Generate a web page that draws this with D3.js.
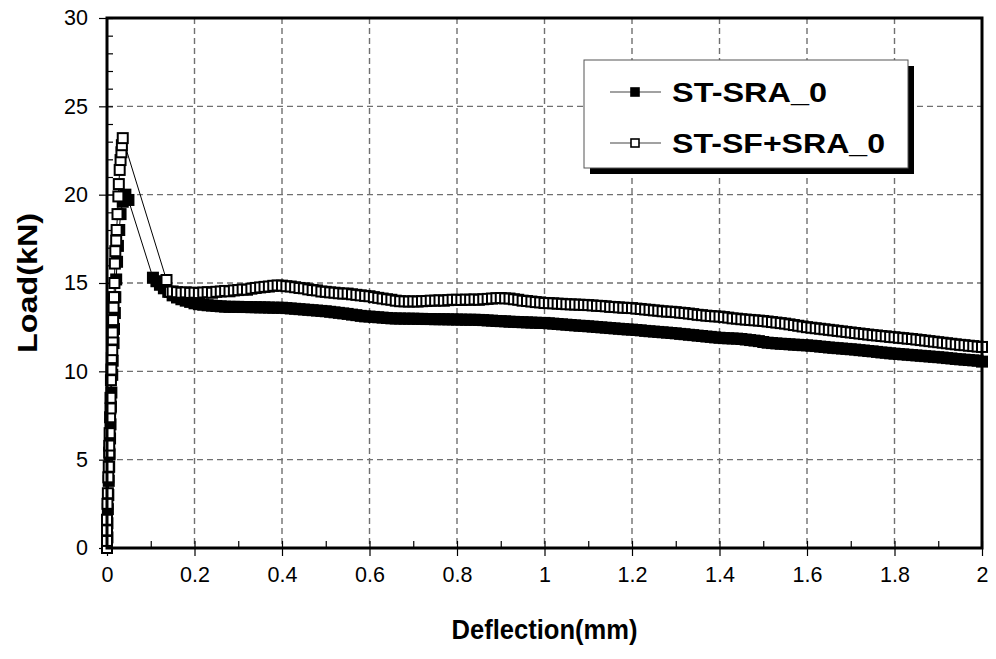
<!DOCTYPE html>
<html>
<head>
<meta charset="utf-8">
<script src="https://cdn.jsdelivr.net/npm/d3@7"></script>
<style>
    body { margin: 0; background: #fff; }
    svg text { font-family: Arial, "Liberation Sans", sans-serif; }
</style>
</head>
<body>
<div id="chart-area"></div>
<script>

// ---- data ----
let seriesNames = ["ST-SRA_0", "ST-SF+SRA_0"];

// ST-SRA_0 (filled squares): rising branch + drop to the plateau
let sraRiseDeflection = [0, 0.001, 0.001, 0.002, 0.003, 0.004, 0.005, 0.006, 0.007, 0.008, 0.009, 0.010, 0.012, 0.013, 0.015, 0.016, 0.018, 0.019, 0.021, 0.023, 0.025, 0.028, 0.031, 0.036, 0.042, 0.049,
    0.105, 0.113, 0.121, 0.13, 0.14];
let sraRiseLoad = [0, 0.6, 1.4, 2.2, 3.0, 3.8, 4.6, 5.3, 6.2, 7.0, 8.0, 8.8, 9.8, 10.6, 11.6, 12.4, 13.3, 14.2, 15.2, 16.2, 17.1, 18.0, 18.9, 19.6, 20.0, 19.7,
    15.3, 15.1, 14.9, 14.7, 14.5];

// ST-SF+SRA_0 (open squares): rising branch + drop to the plateau
let sfRiseDeflection = [0, 0, 0, 0, 0.001, 0.002, 0.003, 0.004, 0.005, 0.005, 0.006, 0.007, 0.008, 0.008, 0.009, 0.010, 0.011, 0.012, 0.013, 0.013, 0.014, 0.015, 0.016, 0.017, 0.018, 0.019, 0.021, 0.022, 0.024, 0.026, 0.027, 0.029, 0.031, 0.033, 0.034, 0.036,
    0.136, 0.144];
let sfRiseLoad = [0, 0.4, 1.0, 1.6, 2.5, 3.1, 4.0, 4.6, 5.4, 5.8, 6.5, 7.4, 7.9, 8.5, 9.5, 10.1, 10.75, 11.2, 11.8, 12.2, 12.9, 13.6, 14.2, 15.0, 16.1, 16.8, 17.4, 18.0, 18.9, 19.9, 20.6, 21.4, 21.96, 22.4, 22.8, 23.2,
    15.17, 14.5];

// plateau, both series share these deflections (mm)
let plateauDeflection = [0.15, 0.16, 0.17, 0.18, 0.19,
    0.20, 0.21, 0.22, 0.23, 0.24, 0.25, 0.26, 0.27, 0.28, 0.29,
    0.30, 0.31, 0.32, 0.33, 0.34, 0.35, 0.36, 0.37, 0.38, 0.39,
    0.40, 0.41, 0.42, 0.43, 0.44, 0.45, 0.46, 0.47, 0.48, 0.49,
    0.50, 0.51, 0.52, 0.53, 0.54, 0.55, 0.56, 0.57, 0.58, 0.59,
    0.60, 0.61, 0.62, 0.63, 0.64, 0.65, 0.66, 0.67, 0.68, 0.69,
    0.70, 0.71, 0.72, 0.73, 0.74, 0.75, 0.76, 0.77, 0.78, 0.79,
    0.80, 0.81, 0.82, 0.83, 0.84, 0.85, 0.86, 0.87, 0.88, 0.89,
    0.90, 0.91, 0.92, 0.93, 0.94, 0.95, 0.96, 0.97, 0.98, 0.99,
    1.00, 1.01, 1.02, 1.03, 1.04, 1.05, 1.06, 1.07, 1.08, 1.09,
    1.10, 1.11, 1.12, 1.13, 1.14, 1.15, 1.16, 1.17, 1.18, 1.19,
    1.20, 1.21, 1.22, 1.23, 1.24, 1.25, 1.26, 1.27, 1.28, 1.29,
    1.30, 1.31, 1.32, 1.33, 1.34, 1.35, 1.36, 1.37, 1.38, 1.39,
    1.40, 1.41, 1.42, 1.43, 1.44, 1.45, 1.46, 1.47, 1.48, 1.49,
    1.50, 1.51, 1.52, 1.53, 1.54, 1.55, 1.56, 1.57, 1.58, 1.59,
    1.60, 1.61, 1.62, 1.63, 1.64, 1.65, 1.66, 1.67, 1.68, 1.69,
    1.70, 1.71, 1.72, 1.73, 1.74, 1.75, 1.76, 1.77, 1.78, 1.79,
    1.80, 1.81, 1.82, 1.83, 1.84, 1.85, 1.86, 1.87, 1.88, 1.89,
    1.90, 1.91, 1.92, 1.93, 1.94, 1.95, 1.96, 1.97, 1.98, 1.99,
    2.00];

let sraPlateauLoad = [14.3, 14.18, 14.08, 14.0, 13.93,
    13.85, 13.8, 13.77, 13.74, 13.72, 13.7, 13.68, 13.66, 13.65, 13.65,
    13.65, 13.64, 13.64, 13.63, 13.63, 13.62, 13.62, 13.61, 13.6, 13.6,
    13.6, 13.58, 13.56, 13.54, 13.52, 13.5, 13.48, 13.46, 13.44, 13.42,
    13.4, 13.37, 13.34, 13.31, 13.28, 13.25, 13.21, 13.18, 13.14, 13.11,
    13.1, 13.08, 13.06, 13.04, 13.02, 13.0, 12.99, 12.99, 12.98, 12.98,
    12.98, 12.97, 12.97, 12.96, 12.96, 12.95, 12.95, 12.95, 12.94, 12.94,
    12.93, 12.93, 12.92, 12.92, 12.92, 12.91, 12.9, 12.88, 12.87, 12.85,
    12.84, 12.83, 12.81, 12.8, 12.79, 12.78, 12.77, 12.76, 12.75, 12.74,
    12.74, 12.72, 12.7, 12.68, 12.66, 12.64, 12.62, 12.6, 12.58, 12.57,
    12.55, 12.53, 12.51, 12.49, 12.47, 12.45, 12.43, 12.41, 12.39, 12.37,
    12.36, 12.34, 12.32, 12.29, 12.27, 12.25, 12.23, 12.21, 12.19, 12.17,
    12.15, 12.12, 12.1, 12.07, 12.05, 12.02, 12.0, 11.97, 11.95, 11.92,
    11.9, 11.88, 11.87, 11.86, 11.85, 11.83, 11.8, 11.77, 11.74, 11.71,
    11.66, 11.62, 11.6, 11.58, 11.56, 11.55, 11.53, 11.51, 11.5, 11.48,
    11.47, 11.45, 11.43, 11.4, 11.38, 11.35, 11.33, 11.31, 11.29, 11.27,
    11.25, 11.23, 11.2, 11.18, 11.15, 11.13, 11.1, 11.07, 11.05, 11.02,
    11.0, 10.98, 10.96, 10.94, 10.92, 10.9, 10.88, 10.86, 10.84, 10.82,
    10.8, 10.78, 10.75, 10.73, 10.7, 10.68, 10.66, 10.64, 10.62, 10.6,
    10.55];

let sfPlateauLoad = [14.52, 14.48, 14.45, 14.47, 14.44,
    14.45, 14.43, 14.46, 14.48, 14.45, 14.5, 14.52, 14.55, 14.53, 14.58,
    14.6, 14.63, 14.62, 14.68, 14.72, 14.75, 14.78, 14.8, 14.84, 14.86,
    14.85, 14.82, 14.8, 14.76, 14.72, 14.7, 14.64, 14.6, 14.58, 14.52,
    14.5, 14.47, 14.45, 14.42, 14.4, 14.4, 14.36, 14.33, 14.3, 14.27,
    14.25, 14.2, 14.16, 14.12, 14.08, 14.05, 14.0, 13.97, 13.96, 13.95,
    13.96, 13.95, 13.97, 13.98, 14.0, 14.0, 14.02, 14.0, 14.03, 14.05,
    14.05, 14.04, 14.06, 14.05, 14.07, 14.05, 14.08, 14.1, 14.12, 14.14,
    14.15, 14.13, 14.12, 14.08, 14.05, 14.0, 13.98, 13.95, 13.92, 13.9,
    13.87, 13.86, 13.85, 13.83, 13.82, 13.8, 13.79, 13.78, 13.77, 13.76,
    13.75, 13.73, 13.71, 13.7, 13.68, 13.65, 13.64, 13.62, 13.6, 13.59,
    13.58, 13.55, 13.53, 13.5, 13.48, 13.45, 13.43, 13.4, 13.38, 13.37,
    13.35, 13.32, 13.3, 13.27, 13.24, 13.2, 13.18, 13.15, 13.13, 13.11,
    13.1, 13.07, 13.04, 13.0, 12.98, 12.95, 12.93, 12.91, 12.89, 12.87,
    12.85, 12.82, 12.79, 12.76, 12.73, 12.7, 12.66, 12.62, 12.58, 12.54,
    12.5, 12.47, 12.44, 12.41, 12.38, 12.35, 12.32, 12.29, 12.26, 12.23,
    12.2, 12.17, 12.14, 12.11, 12.08, 12.05, 12.03, 12.0, 11.98, 11.95,
    11.93, 11.9, 11.88, 11.85, 11.83, 11.8, 11.77, 11.74, 11.71, 11.68,
    11.65, 11.62, 11.59, 11.56, 11.53, 11.5, 11.48, 11.45, 11.43, 11.4,
    11.38];

let xTicks = [0, 0.2, 0.4, 0.6, 0.8, 1, 1.2, 1.4, 1.6, 1.8, 2];
let yTicks = [0, 5, 10, 15, 20, 25, 30];


/* * * * * * * * * * * * * *
*     class LoadVis        *
* * * * * * * * * * * * * */

class LoadVis {

    constructor(parentElement, series) {
        this.parentElement = parentElement;
        this.series = series;
        this.initVis();
    }

    initVis() {
        let vis = this;

        vis.margin = {top: 18, right: 14, bottom: 111, left: 107};
        vis.width = 996 - vis.margin.left - vis.margin.right;
        vis.height = 659 - vis.margin.top - vis.margin.bottom;

        vis.svg = d3.select("#" + vis.parentElement).append("svg")
            .attr("width", 996)
            .attr("height", 659)
            .append("g")
            .attr("transform", `translate(${vis.margin.left}, ${vis.margin.top})`);

        // scales
        vis.x = d3.scaleLinear().domain([0, 2]).range([0, vis.width]);
        vis.y = d3.scaleLinear().domain([0, 30]).range([vis.height, 0]);

        // dashed grid
        vis.svg.append("g").attr("class", "grid")
            .selectAll("line.vgrid")
            .data(xTicks.slice(1, -1))
            .enter().append("line")
            .attr("x1", d => vis.x(d)).attr("x2", d => vis.x(d))
            .attr("y1", 0).attr("y2", vis.height)
            .attr("stroke", "#707070")
            .attr("stroke-width", 1.4)
            .attr("stroke-dasharray", "6,4");

        vis.svg.select(".grid")
            .selectAll("line.hgrid")
            .data(yTicks.slice(1, -1))
            .enter().append("line")
            .attr("x1", 0).attr("x2", vis.width)
            .attr("y1", d => vis.y(d)).attr("y2", d => vis.y(d))
            .attr("stroke", "#707070")
            .attr("stroke-width", 1.4)
            .attr("stroke-dasharray", "6,4");

        // minor ticks (inside)
        vis.svg.append("g")
            .call(d3.axisBottom(vis.x).ticks(20).tickSize(-7).tickFormat(""))
            .attr("transform", `translate(0, ${vis.height})`)
            .call(g => g.select(".domain").remove())
            .call(g => g.selectAll("line").attr("stroke", "#000").attr("stroke-width", 1.2));

        vis.svg.append("g")
            .call(d3.axisLeft(vis.y).ticks(30).tickSize(-6).tickFormat(""))
            .call(g => g.select(".domain").remove())
            .call(g => g.selectAll("line").attr("stroke", "#000").attr("stroke-width", 1.2));

        // major ticks + labels
        vis.xAxis = d3.axisBottom(vis.x).tickValues(xTicks).tickSize(8).tickPadding(11)
            .tickFormat(d3.format("~g"));
        vis.yAxis = d3.axisLeft(vis.y).tickValues(yTicks).tickSize(8).tickPadding(11);

        vis.svg.append("g")
            .attr("class", "x-axis axis")
            .attr("transform", `translate(0, ${vis.height})`)
            .call(vis.xAxis)
            .call(g => g.select(".domain").remove())
            .call(g => g.selectAll("line").attr("stroke", "#000").attr("stroke-width", 1.2))
            .call(g => g.selectAll("text").style("font-size", "21.5px").attr("fill", "#000"));

        vis.svg.append("g")
            .attr("class", "y-axis axis")
            .call(vis.yAxis)
            .call(g => g.select(".domain").remove())
            .call(g => g.selectAll("line").attr("stroke", "#000").attr("stroke-width", 1.2))
            .call(g => g.selectAll("text").style("font-size", "21.5px").attr("fill", "#000"));

        // axis titles
        vis.svg.append("text")
            .text("Deflection(mm)")
            .attr("x", vis.width / 2)
            .attr("y", vis.height + 91)
            .attr("text-anchor", "middle")
            .attr("textLength", 186)
            .attr("lengthAdjust", "spacingAndGlyphs")
            .style("font-size", "27px")
            .style("font-weight", "bold");

        vis.svg.append("text")
            .text("Load(kN)")
            .attr("transform", `translate(-70, ${vis.height / 2}) rotate(-90)`)
            .attr("text-anchor", "middle")
            .attr("textLength", 140)
            .attr("lengthAdjust", "spacingAndGlyphs")
            .style("font-size", "27px")
            .style("font-weight", "bold");

        // line generator
        vis.line = d3.line()
            .x(d => vis.x(d.x))
            .y(d => vis.y(d.y));

        vis.updateVis();
    }

    updateVis() {
        let vis = this;

        vis.series.forEach(s => {
            let g = vis.svg.append("g").attr("class", "series");

            g.append("path")
                .datum(s.values)
                .attr("d", vis.line)
                .attr("fill", "none")
                .attr("stroke", "#000")
                .attr("stroke-width", 1);

            g.selectAll("rect")
                .data(s.values)
                .enter().append("rect")
                .attr("x", d => vis.x(d.x) - 5)
                .attr("y", d => vis.y(d.y) - 5)
                .attr("width", 10)
                .attr("height", 10)
                .attr("fill", s.fill)
                .attr("stroke", "#000")
                .attr("stroke-width", 2);
        });

        // plot frame
        vis.svg.append("rect")
            .attr("width", vis.width)
            .attr("height", vis.height)
            .attr("fill", "none")
            .attr("stroke", "#000")
            .attr("stroke-width", 3);

        // legend
        let lx = 584 - vis.margin.left, ly = 60 - vis.margin.top;
        let legend = vis.svg.append("g").attr("transform", `translate(${lx}, ${ly})`);

        legend.append("rect")
            .attr("x", 6).attr("y", 6)
            .attr("width", 324).attr("height", 108)
            .attr("fill", "#000");
        legend.append("rect")
            .attr("width", 324).attr("height", 108)
            .attr("fill", "#fff")
            .attr("stroke", "#555")
            .attr("stroke-width", 1);

        let legendWidths = [155, 213];
        vis.series.forEach((s, i) => {
            let cy = 32 + i * 51;
            legend.append("line")
                .attr("x1", 26).attr("x2", 77)
                .attr("y1", cy).attr("y2", cy)
                .attr("stroke", "#444").attr("stroke-width", 1.2);
            legend.append("rect")
                .attr("x", 51 - 4).attr("y", cy - 4)
                .attr("width", 8).attr("height", 8)
                .attr("fill", s.fill)
                .attr("stroke", "#000")
                .attr("stroke-width", 1.6);
            legend.append("text")
                .text(s.name)
                .attr("x", 88)
                .attr("y", cy + 10)
                .attr("textLength", legendWidths[i])
                .attr("lengthAdjust", "spacingAndGlyphs")
                .style("font-size", "28px")
                .style("font-weight", "bold");
        });
    }
}

// combine arrays into point lists
function zipPoints(xs, ys) {
    return xs.map((d, i) => ({x: d, y: ys[i]}));
}

let series = [
    {
        name: seriesNames[0],
        fill: "#000",
        values: zipPoints(sraRiseDeflection.concat(plateauDeflection), sraRiseLoad.concat(sraPlateauLoad))
    },
    {
        name: seriesNames[1],
        fill: "#fff",
        values: zipPoints(sfRiseDeflection.concat(plateauDeflection), sfRiseLoad.concat(sfPlateauLoad))
    }
];

new LoadVis("chart-area", series);

</script>
</body>
</html>
